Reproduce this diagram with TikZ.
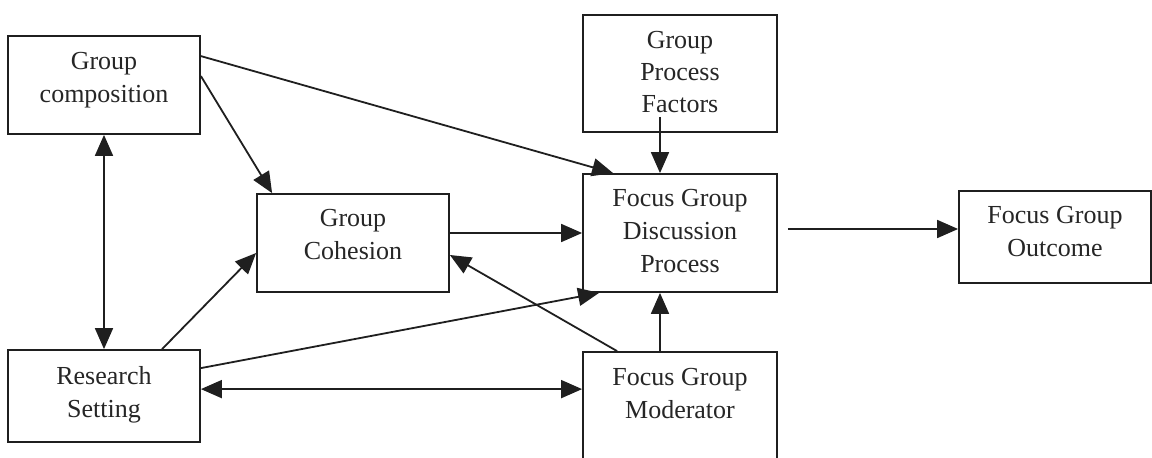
\documentclass[tikz,border=0pt]{standalone}
\usepackage{fontspec}
\setmainfont{Liberation Serif}
\usetikzlibrary{arrows.meta,calc}

\begin{document}
\begin{tikzpicture}[x=1pt,y=-1pt,
  box/.style={draw=black!88, line width=1.8pt, inner sep=0pt},
  txt/.style={anchor=north, align=center, inner sep=0pt, text=black!85,
    font=\fontsize{26}{33}\selectfont},
  conn/.style={draw=black!88, line width=1.8pt,
    -{Triangle[length=21pt,width=18pt]}},
  both/.style={draw=black!88, line width=1.8pt,
    {Triangle[length=21pt,width=18pt]}-{Triangle[length=21pt,width=18pt]}}]

  \useasboundingbox (0,0) rectangle (1152,458);
  \clip (0,0) rectangle (1152,458);
  \fill[white] (0,0) rectangle (1152,458);

  % boxes
  \node[box, minimum width=192, minimum height=98]  (gc)  at (104,85)    {};
  \node[box, minimum width=194, minimum height=117] (gpf) at (680,73.5)  {};
  \node[box, minimum width=192, minimum height=98]  (gch) at (353,243)   {};
  \node[box, minimum width=194, minimum height=118] (fgd) at (680,233)   {};
  \node[box, minimum width=192, minimum height=92]  (fgo) at (1055,237)  {};
  \node[box, minimum width=192, minimum height=92]  (rs)  at (104,396)   {};
  \node[box, minimum width=194, minimum height=118] (fgm) at (680,411)   {};

  % box texts, hung from the top edge of each box
  \node[txt] (t-gc)  at ($(gc.north)+(0,17)$)  {Group\\composition};
  \node[txt, font=\fontsize{26}{32}\selectfont]
             (t-gpf) at ($(gpf.north)+(0,17)$) {Group\\Process\\Factors};
  \node[txt] (t-gch) at ($(gch.north)+(0,16)$) {Group\\Cohesion};
  \node[txt] (t-fgd) at ($(fgd.north)+(0,16)$) {Focus Group\\Discussion\\Process};
  \node[txt] (t-fgo) at ($(fgo.north)+(0,16)$) {Focus Group\\Outcome};
  \node[txt] (t-rs)  at ($(rs.north)+(0,17)$)  {Research\\Setting};
  \node[txt] (t-fgm) at ($(fgm.north)+(0,17)$) {Focus Group\\Moderator};

  % connector end points
  \coordinate (gc-a)  at ($(gc.north east)+(0,21)$);
  \coordinate (gc-b)  at ($(gc.north east)+(0,41)$);
  \coordinate (rs-a)  at ($(rs.north west)+(155,0)$);
  \coordinate (rs-b)  at ($(rs.north east)+(0,19)$);
  \coordinate (rs-c)  at ($(rs.north east)+(0,40)$);
  \coordinate (fgm-a) at ($(fgm.north west)+(35,0)$);
  \coordinate (fgm-b) at ($(fgm.north)+(-20,0)$);
  \coordinate (gpf-a) at ($(gpf.south)+(-20,-16)$);
  \coordinate (fgd-a) at ($(fgd.east)+(10,-4)$);

  % connectors
  \draw[conn] (gc-a) -- ($(fgd.north west)+(31,0)$);
  \draw[conn] (gc-b) -- ($(gch.north west)+(16,0)$);
  \draw[both] (gc.south) -- (rs.north);
  \draw[conn] (rs-a) -- ($(gch.west)+(0,10)$);
  \draw[conn] (rs-b) -- ($(fgd.south west)+(17,0)$);
  \draw[both] (rs-c) -- (rs-c -| fgm.west);
  \draw[conn] (gch.east |- fgd.west) -- (fgd.west);
  \draw[conn] (fgm-a) -- ($(gch.east)+(0,12)$);
  \draw[conn] (fgm-b) -- ($(fgd.south)+(-20,0)$);
  \draw[conn] (gpf-a) -- ($(fgd.north)+(-20,0)$);
  \draw[conn] (fgd-a) -- (fgd-a -| fgo.west);
\end{tikzpicture}
\end{document}
